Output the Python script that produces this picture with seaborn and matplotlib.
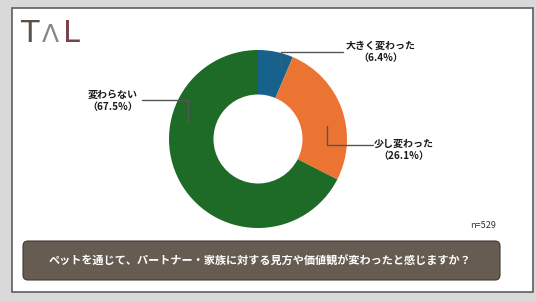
import matplotlib
matplotlib.use("Agg")
import matplotlib.pyplot as plt
from matplotlib.patches import FancyBboxPatch, Rectangle
import seaborn as sns

sns.set_theme(style="white")
plt.rcParams['font.family'] = ['Noto Sans CJK JP', 'DejaVu Sans']

categories = ["大きく変わった", "少し変わった", "変わらない"]
values = [6.4, 26.1, 67.5]
colors = ["#16628c", "#eb7433", "#1e6b27"]
title = "ペットを通じて、パートナー・家族に対する見方や価値観が変わったと感じますか？"
n_label = "n=529"

W, H = 536, 302
fig = plt.figure(figsize=(W / 100, H / 100), dpi=100)
fig.patch.set_facecolor("#d9d9d9")

# background overlay axis in pixel coordinates
bg = fig.add_axes([0, 0, 1, 1])
bg.set_xlim(0, W)
bg.set_ylim(H, 0)
bg.axis("off")
bg.add_patch(Rectangle((12, 8), 521, 284, facecolor="white", edgecolor="#5a5f63", lw=1.2))

# donut
ax = fig.add_axes([169 / W, 1 - 228 / H, 178 / W, 178 / H])
ax.pie(values, colors=colors, startangle=90, counterclock=False,
       wedgeprops=dict(width=0.5, edgecolor="none"), radius=1.0)
ax.set_xlim(-1, 1)
ax.set_ylim(-1, 1)
ax.set_aspect("equal")
ax.axis("off")

# top overlay
ov = fig.add_axes([0, 0, 1, 1])
ov.set_xlim(0, W)
ov.set_ylim(H, 0)
ov.axis("off")
ov.patch.set_alpha(0)

# logo
ov.text(29, 33, "T", fontsize=22, color="#5b5049", ha="center", va="center", family="DejaVu Sans")
ov.text(50, 35, "Λ", fontsize=18, color="#8a8580", ha="center", va="center", family="DejaVu Sans")
ov.text(72, 33, "L", fontsize=22, color="#7b4348", ha="center", va="center", family="DejaVu Sans")

lc = "#555555"
# leader lines
ov.plot([281, 281, 343], [67, 52, 52], color=lc, lw=1.0)
ov.plot([327, 327, 373], [126, 145, 145], color=lc, lw=1.0)
ov.plot([142, 188, 188], [100, 100, 122], color=lc, lw=1.0)

lab_kw = dict(fontsize=7.2, fontweight="bold", color="#1a1a1a", ha="center", va="center", linespacing=1.25)
ov.text(381, 52, f"{categories[0]}\n（{values[0]}%）", **lab_kw)
ov.text(404, 150, f"{categories[1]}\n（{values[1]}%）", **lab_kw)
ov.text(113, 101, f"{categories[2]}\n（{values[2]}%）", **lab_kw)

ov.text(483, 226, n_label, fontsize=6.5, color="#333333", ha="center", va="center")

ov.add_patch(FancyBboxPatch((23, 241), 477, 39, boxstyle="round,pad=0,rounding_size=5",
                            facecolor="#665c51", edgecolor="#3f3a35", lw=0.8))
ov.text(260, 261, title, fontsize=8.0, fontweight="bold", color="white", ha="center", va="center")

fig.savefig("out.png", dpi=100, facecolor=fig.get_facecolor())
